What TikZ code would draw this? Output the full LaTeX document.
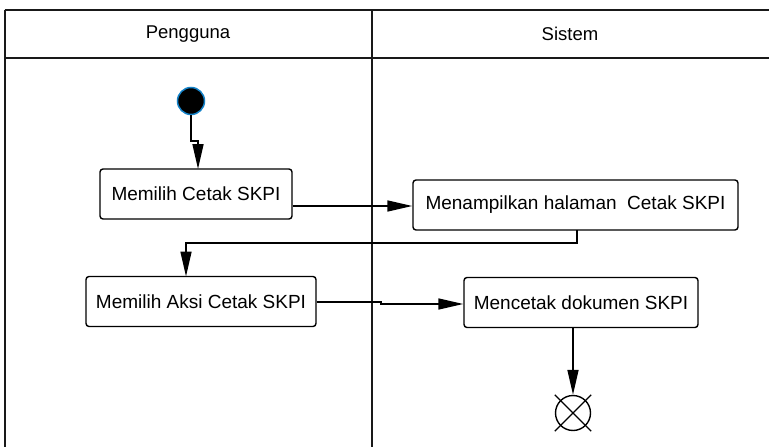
\documentclass[tikz,border=0pt]{standalone}
\usepackage{fontspec}
\setmainfont{Liberation Sans}
\usetikzlibrary{arrows.meta,shapes.misc}
\definecolor{startblue}{RGB}{20,130,200}
\tikzset{
  lane/.style={line width=2pt, black!90},
  action/.style={draw, line width=1.4pt, rounded corners=3pt, minimum height=50pt,
    inner sep=0pt, font=\fontsize{19}{21}\selectfont},
  flow/.style={line width=1.6pt, -{Triangle[length=25pt,width=11pt]}},
  lanetitle/.style={font=\fontsize{18.5}{20}\selectfont},
}
\begin{document}
\begin{tikzpicture}[x=1pt,y=-1pt]
\useasboundingbox (0,0) rectangle (769,447);
\begin{scope}
\clip (0,0) rectangle (769,447);
% swimlane frame
\draw[lane] (4.5,9.5) -- (775,9.5);
\draw[lane] (4.5,57.5) -- (775,57.5);
\draw[lane] (4.5,9.5) -- (4.5,460);
\draw[lane] (371.5,9.5) -- (371.5,460);
\end{scope}
\node[lanetitle] (laneA) at (188,34) {Pengguna};
\node[lanetitle] (laneB) at (570,34) {Sistem};

% nodes
\node[circle, fill=black, draw=startblue, line width=1.5pt, minimum size=27pt, inner sep=0pt] (start) at (191,101) {};
\node[action, minimum width=192pt] (a1) at (196,194) {Memilih Cetak SKPI};
\node[action, minimum width=325pt] (b1) at (575.5,205) {Menampilkan halaman\ \ Cetak SKPI};
\node[action, minimum width=230pt] (a2) at (201,301.5) {Memilih Aksi Cetak SKPI};
\node[action, minimum width=234pt] (b2) at (581,302.5) {Mencetak dokumen SKPI};
\node[circle, draw, line width=1.4pt, minimum size=35pt, inner sep=0pt, cross out] (end) at (573,413) {};
\node[circle, draw, line width=1.4pt, minimum size=35pt, inner sep=0pt] (endc) at (573,413) {};

% flows
\draw[flow] (start.south) -- (191,141) -- (198,141) -- (198,169);
\draw[flow] (a1.east |- 0,206) -- (b1.west |- 0,206);
\draw[flow] (577,230) -- (577,243) -- (186,243) -- (186,276.5);
\draw[flow] (a2.east |- 0,302) -- (381,302) -- (381,304) -- (b2.west |- 0,304);
\draw[flow] (b2.south -| end.north) -- (end.north);
\end{tikzpicture}
\end{document}
